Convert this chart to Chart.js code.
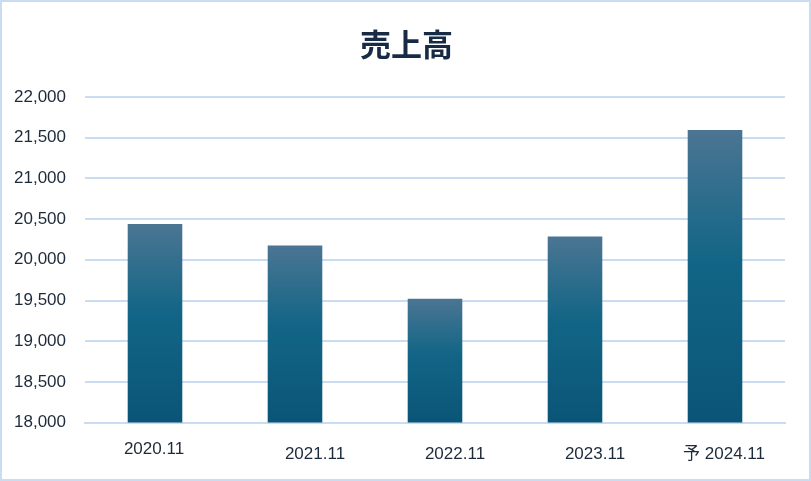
<!DOCTYPE html>
<html>
<head>
<meta charset="utf-8">
<script src="https://cdn.jsdelivr.net/npm/chart.js@4"></script>
<style>
  html, body { margin: 0; padding: 0; background: #fff; }
  #wrap { width: 807px; height: 477px; border: 2px solid #c9dcf1; position: relative; }
  canvas { display: block; }
</style>
</head>
<body>
<div id="wrap"><canvas id="salesChart" width="807" height="477"></canvas></div>
<script>
const categories = ['2020.11', '2021.11', '2022.11', '2023.11', '予 2024.11'];
const sales = [20440, 20175, 19520, 20285, 21595];
const yMin = 18000;
const yMax = 22000;
const yStep = 500;
const chartTitle = '売上高';

// vertical gradient for each bar, lighter at the top
const barFill = (context) => {
  const chart = context.chart;
  const y = chart.scales.y;
  if (!y || context.parsed === undefined) return '#136585';
  const top = y.getPixelForValue(context.parsed.y);
  const bottom = y.getPixelForValue(yMin);
  if (!isFinite(top) || !isFinite(bottom) || top === bottom) return '#136585';
  const g = chart.ctx.createLinearGradient(0, top, 0, bottom);
  g.addColorStop(0, '#4b7593');
  g.addColorStop(0.45, '#126586');
  g.addColorStop(1, '#0a5577');
  return g;
};

// title centred on the whole canvas, not on the padded box
const centeredTitle = {
  id: 'centeredTitle',
  afterDraw(chart) {
    const ctx = chart.ctx;
    ctx.save();
    ctx.font = 'bold 31px "Noto Sans CJK JP", sans-serif';
    ctx.fillStyle = '#172b44';
    ctx.textAlign = 'center';
    ctx.textBaseline = 'middle';
    ctx.fillText(chartTitle, chart.width / 2 + 1, 42);
    ctx.restore();
  }
};

// the x labels in the original sit a little off their bars
const labelShift = {
  id: 'labelShift',
  beforeDraw(chart) {
    const dx = [-1, 20, 20, 20, 9];
    const dy = [-5, 0, 0, 0, 0];
    const items = chart.scales.x.getLabelItems(chart.chartArea);
    items.forEach((item, i) => {
      item.options.translation = [item.options.translation[0] + (dx[i] || 0), item.options.translation[1] + (dy[i] || 0)];
    });
  }
};

new Chart(document.getElementById('salesChart'), {
  type: 'bar',
  data: {
    labels: categories,
    datasets: [{
      label: chartTitle,
      data: sales,
      backgroundColor: barFill,
      categoryPercentage: 1,
      barPercentage: 0.39,
    }],
  },
  plugins: [centeredTitle, labelShift],
  options: {
    responsive: false,
    animation: false,
    devicePixelRatio: 1,
    layout: { padding: { left: -7, right: 24, top: 95, bottom: 0 } },
    plugins: {
      legend: { display: false },
      tooltip: { enabled: false },
      title: { display: false },
    },
    scales: {
      x: {
        grid: { display: false },
        border: { display: true, color: '#c9dcf1', width: 2 },
        ticks: {
          color: '#1d2a3a',
          font: { family: '"Liberation Sans", "Noto Sans CJK JP", sans-serif', size: 17 },
          padding: 14,
          maxRotation: 0,
        },
      },
      y: {
        min: yMin,
        max: yMax,
        ticks: {
          stepSize: yStep,
          color: '#1d2a3a',
          font: { family: '"Liberation Sans", sans-serif', size: 17 },
          padding: 19,
          callback: (v) => v.toLocaleString('en-US'),
        },
        grid: { color: '#c9dcf1', lineWidth: 2, drawTicks: false },
        border: { display: false },
      },
    },
  },
});
</script>
</body>
</html>
